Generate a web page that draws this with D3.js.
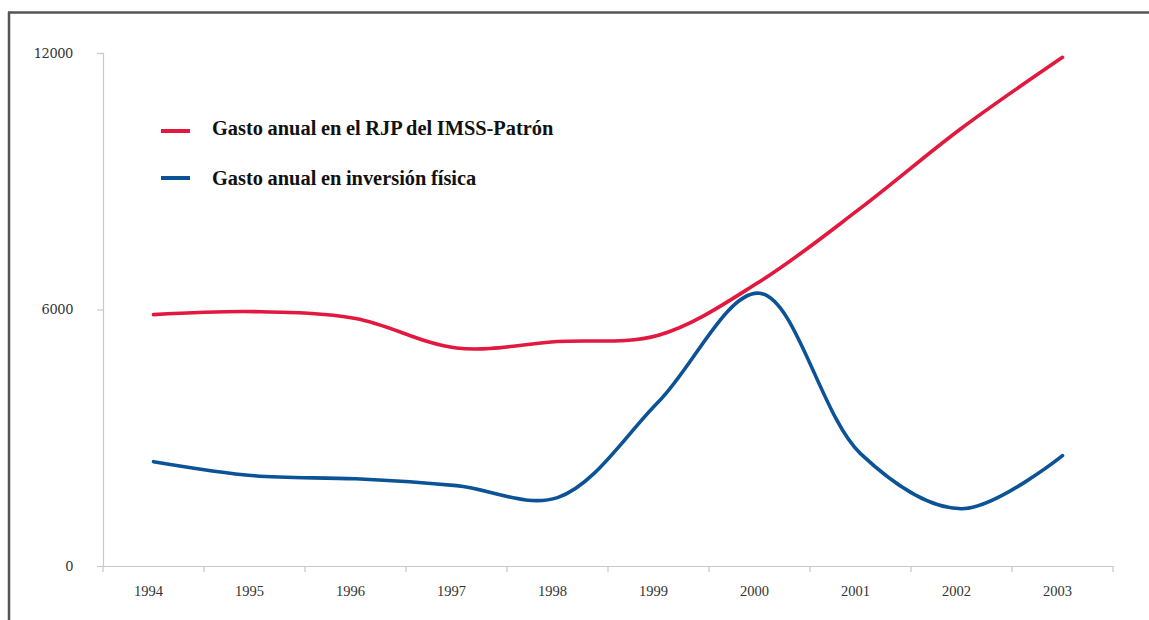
<!DOCTYPE html>
<html>
<head>
<meta charset="utf-8">
<script src="https://cdn.jsdelivr.net/npm/d3@7"></script>
<style>
  html, body { margin: 0; padding: 0; background: #fff; }
  svg { display: block; }
</style>
</head>
<body>
<svg id="chart" width="1149" height="620"></svg>
<script>
// Years on the horizontal axis
const years = ["1994", "1995", "1996", "1997", "1998", "1999", "2000", "2001", "2002", "2003"];
// Annual spending on the IMSS-employer retirement regime (RJP)
const gastoRJP = [5880, 5950, 5790, 5100, 5250, 5400, 6650, 8370, 10240, 11900];
// Annual spending on physical investment
const gastoInversion = [2440, 2110, 2040, 1880, 1600, 3840, 6380, 2630, 1340, 2580];
// Y axis tick values
const yTicks = [0, 6000, 12000];
// Legend labels
const seriesNames = ["Gasto anual en el RJP del IMSS-Patrón", "Gasto anual en inversión física"];
const seriesColors = ["#e2183f", "#0b5396"];

const svg = d3.select("#chart");

// Frame lines (top and left)
svg.append("line").attr("x1", 8).attr("x2", 1149).attr("y1", 12.5).attr("y2", 12.5)
  .attr("stroke", "#555").attr("stroke-width", 2.5);
svg.append("line").attr("x1", 9).attr("x2", 9).attr("y1", 12).attr("y2", 620)
  .attr("stroke", "#555").attr("stroke-width", 2.5);

const x = d3.scaleBand().domain(years).range([103, 1113]).paddingInner(0).paddingOuter(0);
const y = d3.scaleLinear().domain([0, 12000]).range([566, 53]);
const cx = d => x(d) + x.bandwidth() / 2;

// Y axis
const yAxis = svg.append("g").attr("transform", "translate(103,0)")
  .call(d3.axisLeft(y).tickValues(yTicks).tickSize(6).tickPadding(24).tickFormat(d3.format("d")));
yAxis.select(".domain").attr("stroke", "#c8c8c8").attr("stroke-width", 1.2);
yAxis.selectAll(".tick line").attr("stroke", "#c8c8c8").attr("stroke-width", 1.2);
yAxis.selectAll(".tick text")
  .attr("fill", "#333").attr("font-family", "'DejaVu Serif', serif").attr("font-size", 13)
  .attr("letter-spacing", "-0.4px");

// X axis with ticks between the year bands
const xAxis = svg.append("g").attr("transform", "translate(0,566)")
  .call(d3.axisBottom(x).tickSize(0).tickPadding(20));
xAxis.select(".domain").attr("stroke", "#c8c8c8").attr("stroke-width", 1.2);
xAxis.selectAll(".tick text")
  .attr("dx", -5)
  .attr("fill", "#333").attr("font-family", "'Liberation Serif', 'Times New Roman', serif").attr("font-size", 14.5);
const bounds = years.map(d => x(d)).concat([x.range()[1]]);
xAxis.selectAll("line.sep").data(bounds).enter().append("line")
  .attr("class", "sep")
  .attr("x1", d => d).attr("x2", d => d).attr("y1", 0).attr("y2", 6)
  .attr("stroke", "#c8c8c8").attr("stroke-width", 1.2);

// Smoothed series lines
const line = d3.line()
  .x((d, i) => cx(years[i]))
  .y(d => y(d))
  .curve(d3.curveCatmullRom.alpha(0.5));

[gastoRJP, gastoInversion].forEach((vals, i) => {
  svg.append("path").datum(vals)
    .attr("d", line)
    .attr("fill", "none")
    .attr("stroke", seriesColors[i])
    .attr("stroke-width", 3.6)
    .attr("stroke-linecap", "round")
    .attr("stroke-linejoin", "round");
});

// Legend
const legendY = [131, 178];
const legend = svg.append("g");
seriesNames.forEach((name, i) => {
  legend.append("line")
    .attr("x1", 161).attr("x2", 190).attr("y1", legendY[i]).attr("y2", legendY[i])
    .attr("stroke", seriesColors[i]).attr("stroke-width", 4);
  legend.append("text")
    .attr("x", 212).attr("y", legendY[i] + 4 + i * 3)
    .attr("font-family", "'Liberation Serif', 'Times New Roman', serif")
    .attr("font-weight", "bold").attr("font-size", 20.4)
    .attr("word-spacing", "-0.5px")
    .attr("fill", "#111")
    .text(name);
});
</script>
</body>
</html>
